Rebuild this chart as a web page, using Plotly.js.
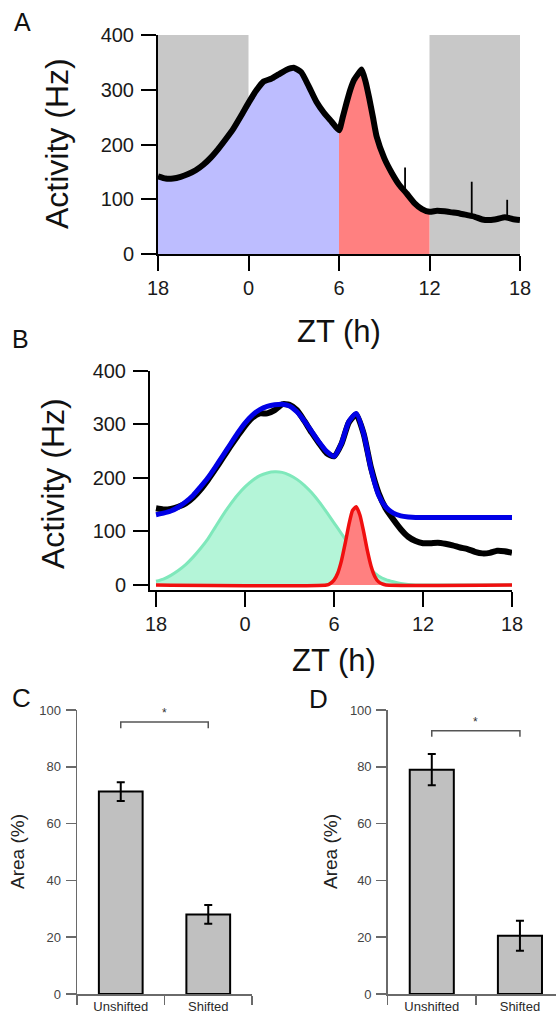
<!DOCTYPE html>
<html><head><meta charset="utf-8">
<script src="https://cdn.plot.ly/plotly-3.0.1.min.js"></script>
<style>html,body{margin:0;padding:0;background:#fff;overflow:hidden}#chart{width:556px;height:1015px}</style>
</head><body><div id="chart"></div>
<script>
// ---------------- data ----------------
const zTickVals = [-6, 0, 6, 12, 18];
const zTickText = ['18', '0', '6', '12', '18'];
const activityTicks = [0, 100, 200, 300, 400];
const activityMax = 400;

// Panel A: recorded activity
const aHours = [-6,-5.5,-5,-4.5,-4,-3.5,-3,-2.5,-2,-1.5,-1,-0.5,0,0.5,1,1.5,2,2.5,3,3.5,4,4.5,5,5.5,
  6,6.25,6.5,6.75,7,7.25,7.5,7.75,8,8.25,8.5,
  9,9.5,10,10.5,11,11.5,12,12.5,13,13.5,14,14.5,15,15.5,16,16.5,17,17.5,18];
const aActivity = [142,138,138,141,146,153,163,176,192,210,229,252,276,298,315,320,328,336,340,332,306,278,258,242,
  226,250,276,300,318,328,337,316,285,250,214,
  175,148,126,110,93,82,77,79,78,76,74,71,68,63,62,64,67,64,62];
const spikeHours = [10.38, 14.8, 17.15];
const spikeBase = [110, 70, 66];
const spikeTop = [158, 132, 99];
const darkStart = [-6, 12];
const darkEnd = [0, 18];
const splitHour = 6;
const splitEnd = 12;

// Panel B: smoothed recording, fit and components
const bHours = [-6,-5.5,-5,-4.5,-4,-3.5,-3,-2.5,-2,-1.5,-1,-0.5,0,0.5,1,1.5,2,2.5,3,3.5,4,4.5,5,5.5,
  6,6.5,7,7.5,8,8.5,9,9.5,10,10.5,11,11.5,12,12.5,13,13.5,14,14.5,15,15.5,16,16.5,17,17.5,18];
const bRecorded = [143,141,142,146,152,163,178,196,216,237,258,278,297,312,320,320,326,337,336,326,306,284,264,246,
  240,263,303,318,282,218,172,142,122,104,90,82,78,78,79,77,74,70,67,62,59,60,64,63,60];
const bFit = [131,134,138,145,155,167,183,200,220,241,262,283,302,317,327,333,336,337,334,323,306,286,266,249,
  240,264,305,320,282,216,168,145,134,129,127,126,126,126,126,126,126,126,126,126,126,126,126,126,126];
const bUnshifted = [7,11,18,27,38,52,68,86,108,130,150,168,183,195,204,209,211,210,205,197,186,172,155,136,
  116,96,76,57,41,28,17,10,6,3,1,0,0,0,0,0,0,0,0,0,0,0,0,0,0];
const bShiftedHours = [-6,5.5,5.75,6,6.25,6.5,6.75,7,7.25,7.5,7.75,8,8.25,8.5,8.75,9,9.25,9.5,18];
const bShifted = [0,0,3,9,22,45,77,112,139,146,130,99,64,35,16,6,2,0,0];

// Panels C and D: area of components
const groups = ['Unshifted', 'Shifted'];
const cArea = [71.3, 28.0];
const cSem = [3.3, 3.3];
const dArea = [79.0, 20.5];
const dSem = [5.5, 5.3];
const cSig = [95.8, 93.6];
const dSig = [92.7, 90.6];
const areaTicks = [0, 20, 40, 60, 80, 100];

// ---------------- build ----------------
const FONT = 'Liberation Sans, Arial, Helvetica, sans-serif';
const W = 556, H = 1015;
const px = v => v / W;
const py = v => 1 - v / H;

function pick(xs, ys, lo, hi) {
  const x = [], y = [];
  xs.forEach((h, i) => { if (h >= lo && h <= hi) { x.push(h); y.push(ys[i]); } });
  return {x, y};
}
const blueA = pick(aHours, aActivity, -Infinity, splitHour);
const redA = pick(aHours, aActivity, splitHour, splitEnd);

const spX = [], spY = [];
spikeHours.forEach((h, i) => { spX.push(h, h, null); spY.push(spikeBase[i], spikeTop[i], null); });

const traces = [
  {x: blueA.x, y: blueA.y, xaxis: 'x', yaxis: 'y', mode: 'lines', fill: 'tozeroy',
   fillcolor: '#bdbdff', line: {width: 0, shape: 'spline', smoothing: 0.5}, hoverinfo: 'skip'},
  {x: redA.x, y: redA.y, xaxis: 'x', yaxis: 'y', mode: 'lines', fill: 'tozeroy',
   fillcolor: '#ff8080', line: {width: 0, shape: 'spline', smoothing: 0.5}, hoverinfo: 'skip'},
  {x: aHours, y: aActivity, xaxis: 'x', yaxis: 'y', mode: 'lines',
   line: {color: '#000', width: 6, shape: 'spline', smoothing: 0.5}},
  {x: spX, y: spY, xaxis: 'x', yaxis: 'y', mode: 'lines', line: {color: '#000', width: 1.8}},

  {x: bHours, y: bUnshifted, xaxis: 'x2', yaxis: 'y2', mode: 'lines', fill: 'tozeroy',
   fillcolor: '#b4f5d8', line: {color: '#7fe8bb', width: 3, shape: 'spline', smoothing: 0.6}},
  {x: bShiftedHours, y: bShifted, xaxis: 'x2', yaxis: 'y2', mode: 'lines', fill: 'tozeroy',
   fillcolor: '#ff8080', line: {color: '#f00f0f', width: 3.5, shape: 'spline', smoothing: 0.5}},
  {x: bHours, y: bRecorded, xaxis: 'x2', yaxis: 'y2', mode: 'lines',
   line: {color: '#000', width: 6, shape: 'spline', smoothing: 0.6}},
  {x: bHours, y: bFit, xaxis: 'x2', yaxis: 'y2', mode: 'lines',
   line: {color: '#0000e6', width: 5, shape: 'spline', smoothing: 0.6}},

  {x: groups, y: cArea, type: 'bar', xaxis: 'x3', yaxis: 'y3',
   marker: {color: '#c0c0c0', line: {color: '#000', width: 2}},
   error_y: {type: 'data', array: cSem, visible: true, color: '#000', thickness: 2, width: 4}},
  {x: [groups[0], groups[0], groups[1], groups[1]], y: [cSig[1], cSig[0], cSig[0], cSig[1]],
   xaxis: 'x3', yaxis: 'y3', mode: 'lines', line: {color: '#555', width: 1.5}},

  {x: groups, y: dArea, type: 'bar', xaxis: 'x4', yaxis: 'y4',
   marker: {color: '#c0c0c0', line: {color: '#000', width: 2}},
   error_y: {type: 'data', array: dSem, visible: true, color: '#000', thickness: 2, width: 4}},
  {x: [groups[0], groups[0], groups[1], groups[1]], y: [dSig[1], dSig[0], dSig[0], dSig[1]],
   xaxis: 'x4', yaxis: 'y4', mode: 'lines', line: {color: '#555', width: 1.5}}
];

function bigX(domain, range) {
  return {domain, range, tickvals: zTickVals, ticktext: zTickText, ticks: 'outside', ticklen: 15,
    tickwidth: 2, tickcolor: '#000', showline: true, linewidth: 2, linecolor: '#000',
    showgrid: false, zeroline: false, fixedrange: true,
    tickfont: {family: FONT, size: 20, color: '#1a1a1a'}};
}
function bigY(domain, range, anchor) {
  return {domain, range, anchor, tickvals: activityTicks, ticks: 'outside', ticklen: 15,
    tickwidth: 2, tickcolor: '#000', showline: true, linewidth: 2, linecolor: '#000',
    showgrid: false, zeroline: false, fixedrange: true, ticklabelstandoff: 3,
    tickfont: {family: FONT, size: 20, color: '#1a1a1a'}};
}
function catX(domain, range, anchor) {
  return {domain, range, anchor, type: 'category', tickson: 'boundaries', ticks: 'outside', ticklen: 9,
    tickwidth: 1.5, tickcolor: '#6a6a6a', showline: true, linewidth: 1.5, linecolor: '#6a6a6a',
    showgrid: false, zeroline: false, fixedrange: true,
    tickfont: {family: FONT, size: 13, color: '#2a2a2a'}};
}
function areaY(domain, anchor) {
  return {domain, range: [0, 100], anchor, tickvals: areaTicks, ticks: 'outside', ticklen: 10,
    tickwidth: 1.5, tickcolor: '#6a6a6a', showline: true, linewidth: 1.5, linecolor: '#6a6a6a',
    showgrid: false, zeroline: false, fixedrange: true, ticklabelstandoff: 2,
    tickfont: {family: FONT, size: 13, color: '#444'}};
}

const shapes = darkStart.map((s, i) => ({type: 'rect', xref: 'x', yref: 'y', x0: s, x1: darkEnd[i],
  y0: 0, y1: activityMax, fillcolor: '#c8c8c8', line: {width: 0}, layer: 'below'}));

function txt(text, x, y, size, angle, color) {
  return {text, xref: 'paper', yref: 'paper', x: px(x), y: py(y), xanchor: 'center', yanchor: 'middle',
    showarrow: false, textangle: angle || 0, font: {family: FONT, size, color: color || '#111'}};
}
const annotations = [
  txt('A', 22, 22, 25), txt('B', 20, 339, 25), txt('C', 21, 698, 26), txt('D', 318, 699, 26),
  txt('Activity (Hz)', 57, 144, 32, -90), txt('ZT (h)', 339, 332, 31),
  txt('Activity (Hz)', 53, 484, 32, -90), txt('ZT (h)', 334, 660, 31),
  txt('Area (%)', 17, 852, 19, -90, '#222'), txt('Area (%)', 330, 852, 19, -90, '#222'),
  {text: '*', xref: 'x3', yref: 'y3', x: 0.5, y: cSig[0], yanchor: 'bottom', showarrow: false,
   font: {family: FONT, size: 12, color: '#333'}},
  {text: '*', xref: 'x4', yref: 'y4', x: 0.5, y: dSig[0], yanchor: 'bottom', showarrow: false,
   font: {family: FONT, size: 12, color: '#333'}}
];

const layout = {
  width: W, height: H, margin: {l: 0, r: 0, t: 0, b: 0}, showlegend: false,
  paper_bgcolor: '#fff', plot_bgcolor: 'rgba(0,0,0,0)', bargap: 0.5,
  font: {family: FONT},
  xaxis: bigX([px(158), px(520)], [-6, 18]),
  yaxis: bigY([py(254), py(35)], [0, activityMax], 'x'),
  xaxis2: Object.assign(bigX([px(150), px(512)], [-6.405, 18]), {anchor: 'y2'}),
  yaxis2: bigY([py(590), py(370.5)], [-9.3, activityMax], 'x2'),
  xaxis3: catX([px(77), px(252)], [-0.5, 1.5], 'y3'),
  yaxis3: areaY([py(994), py(710)], 'x3'),
  xaxis4: catX([px(387.7), 1], [-0.5, 1.409], 'y4'),
  yaxis4: areaY([py(994), py(710)], 'x4'),
  shapes, annotations
};
layout.xaxis.anchor = 'y';

Plotly.newPlot('chart', traces, layout, {staticPlot: true, displayModeBar: false});
</script></body></html>
